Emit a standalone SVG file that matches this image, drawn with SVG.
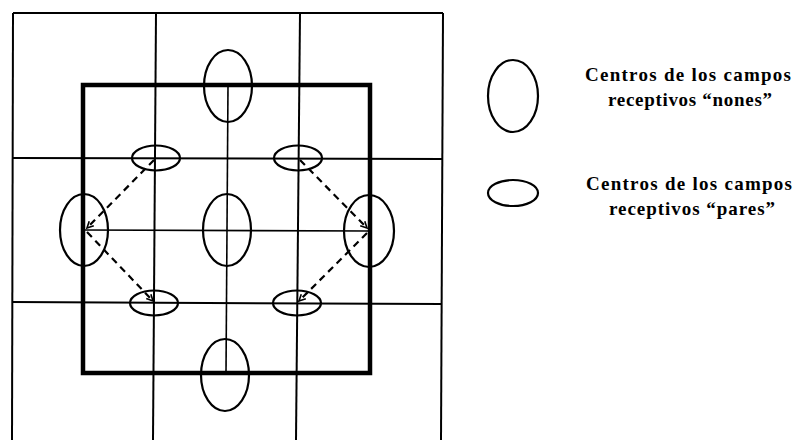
<svg xmlns="http://www.w3.org/2000/svg" width="796" height="440" viewBox="0 0 796 440">
<style>
.grid{stroke:#000;stroke-width:2;fill:none}
.thick{stroke:#000;stroke-width:4.5;fill:none}
.axis{stroke:#000;stroke-width:1.6;fill:none}
.rf{stroke:#000;stroke-width:2.2;fill:none}
.dash{stroke:#000;stroke-width:2.2;fill:none;stroke-dasharray:7 5}
.lbl{font-family:"Liberation Serif","Times New Roman",serif;font-weight:bold;font-size:19px;fill:#000}
</style>
<defs>
<marker id="ah" viewBox="0 0 10 10" refX="9" refY="5" markerWidth="8" markerHeight="8" orient="auto" markerUnits="userSpaceOnUse">
<path d="M1,1 L9,5 L1,9" fill="none" stroke="#000" stroke-width="2"/>
</marker>
</defs>
<rect width="796" height="440" fill="#fff"/>
<g id="grid">
<line class="grid" x1="13" y1="13" x2="443" y2="13"/>
<line class="grid" x1="13" y1="13" x2="12" y2="440"/>
<line class="grid" x1="443" y1="13" x2="441" y2="440"/>
<line class="grid" x1="156" y1="13" x2="153" y2="440"/>
<line class="grid" x1="300" y1="13" x2="296" y2="440"/>
<line class="grid" x1="13" y1="158" x2="443" y2="159"/>
<line class="grid" x1="12" y1="302" x2="441" y2="304"/>
</g>
<g id="square">
<rect class="thick" x="83" y="85" width="287" height="288"/>
<line class="axis" x1="228" y1="85" x2="226" y2="373"/>
<line class="axis" x1="83" y1="230" x2="370" y2="231"/>
</g>
<g id="nones-top"><ellipse class="rf" cx="228" cy="86" rx="24" ry="36"/></g>
<g id="nones-center"><ellipse class="rf" cx="227" cy="230" rx="24" ry="36"/></g>
<g id="nones-bottom"><ellipse class="rf" cx="225" cy="375" rx="24" ry="36"/></g>
<g id="nones-left"><ellipse class="rf" cx="84" cy="230" rx="24" ry="36"/></g>
<g id="nones-right"><ellipse class="rf" cx="369" cy="231" rx="25" ry="36"/></g>
<g id="pares-tl"><ellipse class="rf" cx="156" cy="158" rx="24" ry="12.5"/></g>
<g id="pares-tr"><ellipse class="rf" cx="298" cy="158" rx="24" ry="12.5"/></g>
<g id="pares-bl"><ellipse class="rf" cx="154" cy="303" rx="24" ry="12.5"/></g>
<g id="pares-br"><ellipse class="rf" cx="297" cy="303" rx="24" ry="12.5"/></g>
<g id="connectors">
<line class="dash" x1="154" y1="160" x2="87" y2="228" marker-end="url(#ah)"/>
<line class="dash" x1="87" y1="232" x2="153" y2="301" marker-end="url(#ah)"/>
<line class="dash" x1="300" y1="160" x2="367" y2="228" marker-end="url(#ah)"/>
<line class="dash" x1="367" y1="233" x2="299" y2="301" marker-end="url(#ah)"/>
</g>
<g id="legend-nones">
<ellipse class="rf" cx="513" cy="96" rx="25" ry="36"/>
<text class="lbl" x="688" y="81" text-anchor="middle" textLength="206" lengthAdjust="spacing">Centros de los campos</text>
<text class="lbl" x="690" y="106" text-anchor="middle" textLength="164" lengthAdjust="spacing">receptivos “nones”</text>
</g>
<g id="legend-pares">
<ellipse class="rf" cx="513" cy="193" rx="25" ry="13"/>
<text class="lbl" x="689" y="190" text-anchor="middle" textLength="206" lengthAdjust="spacing">Centros de los campos</text>
<text class="lbl" x="692" y="215" text-anchor="middle" textLength="166" lengthAdjust="spacing">receptivos “pares”</text>
</g>
</svg>
